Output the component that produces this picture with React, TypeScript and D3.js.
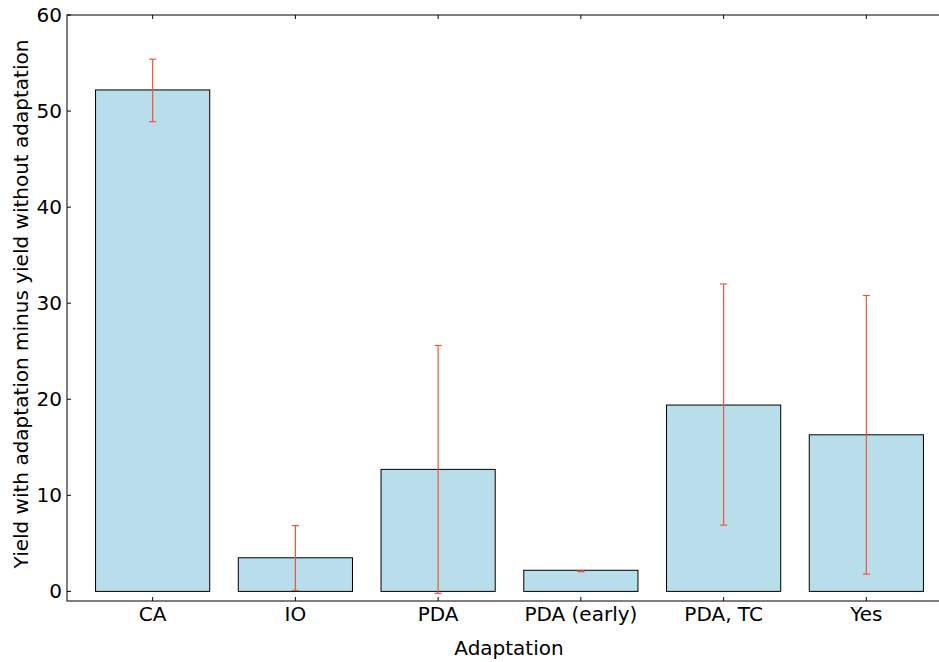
import React from "react";
import * as d3 from "d3";

const categories = ["CA", "IO", "PDA", "PDA (early)", "PDA, TC", "Yes"];
const values = [52.2, 3.5, 12.7, 2.2, 19.4, 16.3];
const errLow = [48.9, 0.1, -0.2, 2.05, 6.9, 1.8];
const errHigh = [55.4, 6.85, 25.6, 2.12, 32.0, 30.8];
const yTicks = [0, 10, 20, 30, 40, 50, 60];

const W = 939, H = 662;
const left = 67, top = 15, bottom = 601;
const right = 952;

export default function App() {
  const x = d3.scaleLinear().domain([-0.6, 5.6]).range([left, right]);
  const y = d3.scaleLinear().domain([-1, 60]).range([bottom, top]);
  const bw = x(0.4) - x(-0.4);
  const font = "DejaVu Sans, sans-serif";
  return (
    <svg width={W} height={H} style={{ position: "absolute", left: 0, top: 0, background: "#fff" }} fontFamily={font}>
      {categories.map((c, i) => (
        <rect key={c} x={x(i) - bw / 2} y={y(values[i])} width={bw} height={y(0) - y(values[i])}
          fill="#b7deea" stroke="#000" strokeWidth={1} />
      ))}
      {categories.map((c, i) => (
        <g key={"e" + c} stroke="#f0553c" strokeWidth={1.2}>
          <line x1={x(i)} x2={x(i)} y1={y(errLow[i])} y2={y(errHigh[i])} />
          <line x1={x(i) - 3.5} x2={x(i) + 3.5} y1={y(errLow[i])} y2={y(errLow[i])} />
          <line x1={x(i) - 3.5} x2={x(i) + 3.5} y1={y(errHigh[i])} y2={y(errHigh[i])} />
        </g>
      ))}
      <rect x={left} y={top} width={right - left} height={bottom - top} fill="none" stroke="#000" strokeWidth={1} />
      {categories.map((c, i) => (
        <g key={"t" + c}>
          <line x1={x(i)} x2={x(i)} y1={bottom} y2={bottom - 4} stroke="#000" />
          <line x1={x(i)} x2={x(i)} y1={top} y2={top + 4} stroke="#000" />
          <text x={x(i)} y={621} textAnchor="middle" fontSize={20} fill="#000">{c}</text>
        </g>
      ))}
      {yTicks.map((t) => (
        <g key={"y" + t}>
          <line x1={left} x2={left + 4} y1={y(t)} y2={y(t)} stroke="#000" />
          <text x={left - 5} y={y(t)} dy="0.35em" textAnchor="end" fontSize={20} fill="#000">{t}</text>
        </g>
      ))}
      <text x={509} y={655} textAnchor="middle" fontSize={20} fill="#000">Adaptation</text>
      <text transform={`translate(28, 304) rotate(-90)`} textAnchor="middle" fontSize={20} fill="#000">
        Yield with adaptation minus yield without adaptation
      </text>
    </svg>
  );
}
